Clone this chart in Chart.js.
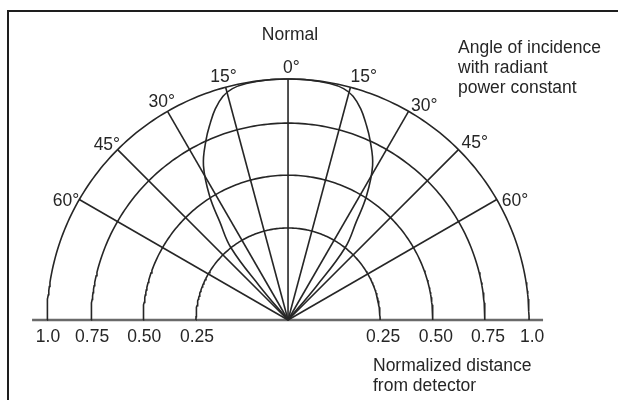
<!DOCTYPE html>
<html>
<head>
<meta charset="utf-8">
<script src="https://cdn.jsdelivr.net/npm/chart.js@4.4.1/dist/chart.umd.min.js"></script>
<style>
  html, body { margin: 0; padding: 0; background: #fff; overflow: hidden; }
  .wrap { position: relative; width: 618px; height: 400px; }
  .frame { position: absolute; left: 7px; top: 10px; right: -6px; bottom: -6px;
           border-top: 2px solid #1e1e1e; border-left: 2px solid #1e1e1e; }
  canvas { position: absolute; left: 0; top: 0; }
</style>
</head>
<body>
<div class="wrap">
  <div class="frame"></div>
  <canvas id="polarChart" width="618" height="400"></canvas>
</div>
<script>
// rings = normalized distance from detector
const ringValues = [0.25, 0.5, 0.75, 1.0];
const ringLabels = ['0.25', '0.50', '0.75', '1.0'];

// spokes, degrees off the normal (negative = left)
const spokeAngles = [-60, -45, -30, -15, 0, 15, 30, 45, 60];
const spokeLabels = ['60°', '45°', '30°', '15°', '0°', '15°', '30°', '45°', '60°'];

// constant radiant power curve, right half (left half is the mirror)
const curveAngles = [0, 5, 10, 13.5, 16.2, 19, 21.5, 24.5, 28.7, 32.4, 34.8, 38.3, 40, 41];
const curveValues = [1, 1, 0.995, 0.983, 0.955, 0.9, 0.835, 0.755, 0.65, 0.505, 0.38, 0.25, 0.12, 0];

const INK = '#262626';
const FONT = '17.5px "Liberation Sans", Arial, sans-serif';

// the printed rings are not evenly spaced: share of outer radius for each distance
const RING_STOPS = [[0, 0], [0.25, 0.382], [0.5, 0.601], [0.75, 0.817], [1, 1]];

function radius(v) {
    for (let i = 1; i < RING_STOPS.length; i++) {
        const [v0, r0] = RING_STOPS[i - 1];
        const [v1, r1] = RING_STOPS[i];
        if (v <= v1) return r0 + (v - v0) / (v1 - v0) * (r1 - r0);
    }
    return 1;
}

function polar(deg, v) {
    const a = deg * Math.PI / 180;
    const r = radius(v);
    return { x: r * Math.sin(a), y: r * Math.cos(a) };
}

function lineSet(data, extra) {
    return Object.assign({
        data: data,
        showLine: true,
        pointRadius: 0,
        pointHoverRadius: 0,
        borderColor: INK,
        borderWidth: 1.6,
        tension: 0,
        fill: false
    }, extra || {});
}

const datasets = [];

// curve: mirror the half so it runs -41 .. 0 .. 41
const curvePts = curveAngles.slice(1).reverse().map((a, i) => polar(-a, curveValues[curveAngles.length - 1 - i]))
    .concat(curveAngles.map((a, i) => polar(a, curveValues[i])));
datasets.push(lineSet(curvePts, { tension: 0.4 }));

// spokes
spokeAngles.forEach(a => datasets.push(lineSet([polar(a, 0), polar(a, 1)])));

// rings
ringValues.forEach(v => {
    const pts = [];
    for (let a = -90; a <= 90; a += 1) pts.push(polar(a, v));
    datasets.push(lineSet(pts));
});

// base line
datasets.push(lineSet([{ x: -1.062, y: 0 }, { x: 1.058, y: 0 }], { borderColor: '#6a6a6a', borderWidth: 2.5 }));

// label nudges (px) from the outer ring end of each spoke
const angleNudge = {
    '-60': [0, 6], '-45': [2.5, 0], '-30': [7.5, -4], '-15': [11, -5],
    '0': [-5, -6],
    '15': [0, -5], '30': [2.5, 0], '45': [3, -2], '60': [5, 6]
};

const labelPlugin = {
    id: 'polarLabels',
    afterDatasetsDraw(chart) {
        const { ctx } = chart;
        const xs = chart.scales.x, ys = chart.scales.y;
        ctx.save();
        ctx.fillStyle = INK;
        ctx.font = FONT;
        ctx.textBaseline = 'alphabetic';

        // angle labels
        spokeAngles.forEach((a, i) => {
            const p = polar(a, 1);
            const n = angleNudge[String(a)];
            ctx.textAlign = a < 0 ? 'right' : 'left';
            ctx.fillText(spokeLabels[i], xs.getPixelForValue(p.x) + n[0], ys.getPixelForValue(p.y) + n[1]);
        });

        // distance ticks on both sides of the base line
        const baseY = ys.getPixelForValue(0) + 22;
        ctx.textAlign = 'center';
        ringValues.forEach((v, i) => {
            const r = radius(v);
            ctx.fillText(ringLabels[i], xs.getPixelForValue(-r) + 1, baseY);
            ctx.fillText(ringLabels[i], xs.getPixelForValue(r) + 3, baseY);
        });

        // captions
        ctx.fillText('Normal', xs.getPixelForValue(0) + 2, 40);
        ctx.textAlign = 'left';
        ['Angle of incidence', 'with radiant', 'power constant'].forEach((t, i) => ctx.fillText(t, 458, 53 + i * 20));
        ['Normalized distance', 'from detector'].forEach((t, i) => ctx.fillText(t, 373, 371 + i * 20));
        ctx.restore();
    }
};

new Chart(document.getElementById('polarChart'), {
    type: 'scatter',
    data: { datasets: datasets },
    options: {
        responsive: false,
        animation: false,
        layout: { padding: 0 },
        plugins: { legend: { display: false }, tooltip: { enabled: false } },
        events: [],
        scales: {
            x: { type: 'linear', display: false, min: -1.195, max: 1.369 },
            y: { type: 'linear', display: false, min: -0.332, max: 1.328 }
        }
    },
    plugins: [labelPlugin]
});
</script>
</body>
</html>
